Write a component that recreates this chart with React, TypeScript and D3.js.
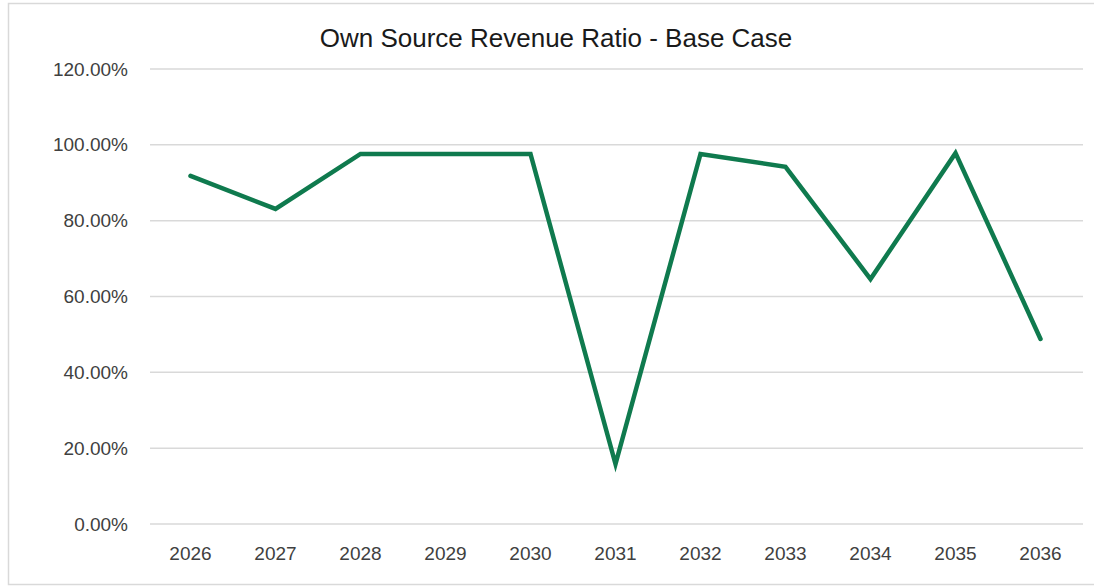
import React from "react";
import * as d3 from "d3";

const years = ["2026", "2027", "2028", "2029", "2030", "2031", "2032", "2033", "2034", "2035", "2036"];
const ratios = [0.918, 0.831, 0.976, 0.976, 0.976, 0.158, 0.976, 0.942, 0.646, 0.978, 0.488];
const yTicks = [0, 0.2, 0.4, 0.6, 0.8, 1.0, 1.2];
const title = "Own Source Revenue Ratio - Base Case";

const W = 1094;
const H = 586;
const plot = { left: 148, right: 1083, top: 69, bottom: 524 };

export default function App() {
  const x = d3.scaleBand<string>().domain(years).range([plot.left, plot.right]).padding(0);
  const y = d3.scaleLinear().domain([0, 1.2]).range([plot.bottom, plot.top]);
  const line = d3
    .line<number>()
    .x((_, i) => (x(years[i]) as number) + x.bandwidth() / 2)
    .y((d) => y(d));
  const fmt = (v: number) => (v * 100).toFixed(2) + "%";
  const font = "'Liberation Sans', Arial, sans-serif";

  return (
    <svg
      width={W}
      height={H}
      style={{ position: "absolute", left: 0, top: 0, background: "#fff" }}
      fontFamily={font}
    >
      <rect x={8.5} y={3.5} width={W} height={581} fill="#fff" stroke="#d9d9d9" strokeWidth={1.5} />
      <text x={556} y={47} textAnchor="middle" fontSize={26} fill="#1a1a1a">
        {title}
      </text>
      {yTicks.map((t) => (
        <g key={t}>
          <line x1={plot.left + 2} x2={plot.right} y1={y(t)} y2={y(t)} stroke="#d9d9d9" strokeWidth={1.5} />
          <text x={128} y={y(t)} dy="0.35em" textAnchor="end" fontSize={19} fill="#404040">
            {fmt(t)}
          </text>
        </g>
      ))}
      {years.map((yr) => (
        <text
          key={yr}
          x={(x(yr) as number) + x.bandwidth() / 2}
          y={560}
          textAnchor="middle"
          fontSize={19}
          fill="#404040"
        >
          {yr}
        </text>
      ))}
      <path
        d={line(ratios) || ""}
        fill="none"
        stroke="#0f7a4e"
        strokeWidth={4.5}
        strokeLinejoin="miter"
        strokeLinecap="round"
      />
    </svg>
  );
}
